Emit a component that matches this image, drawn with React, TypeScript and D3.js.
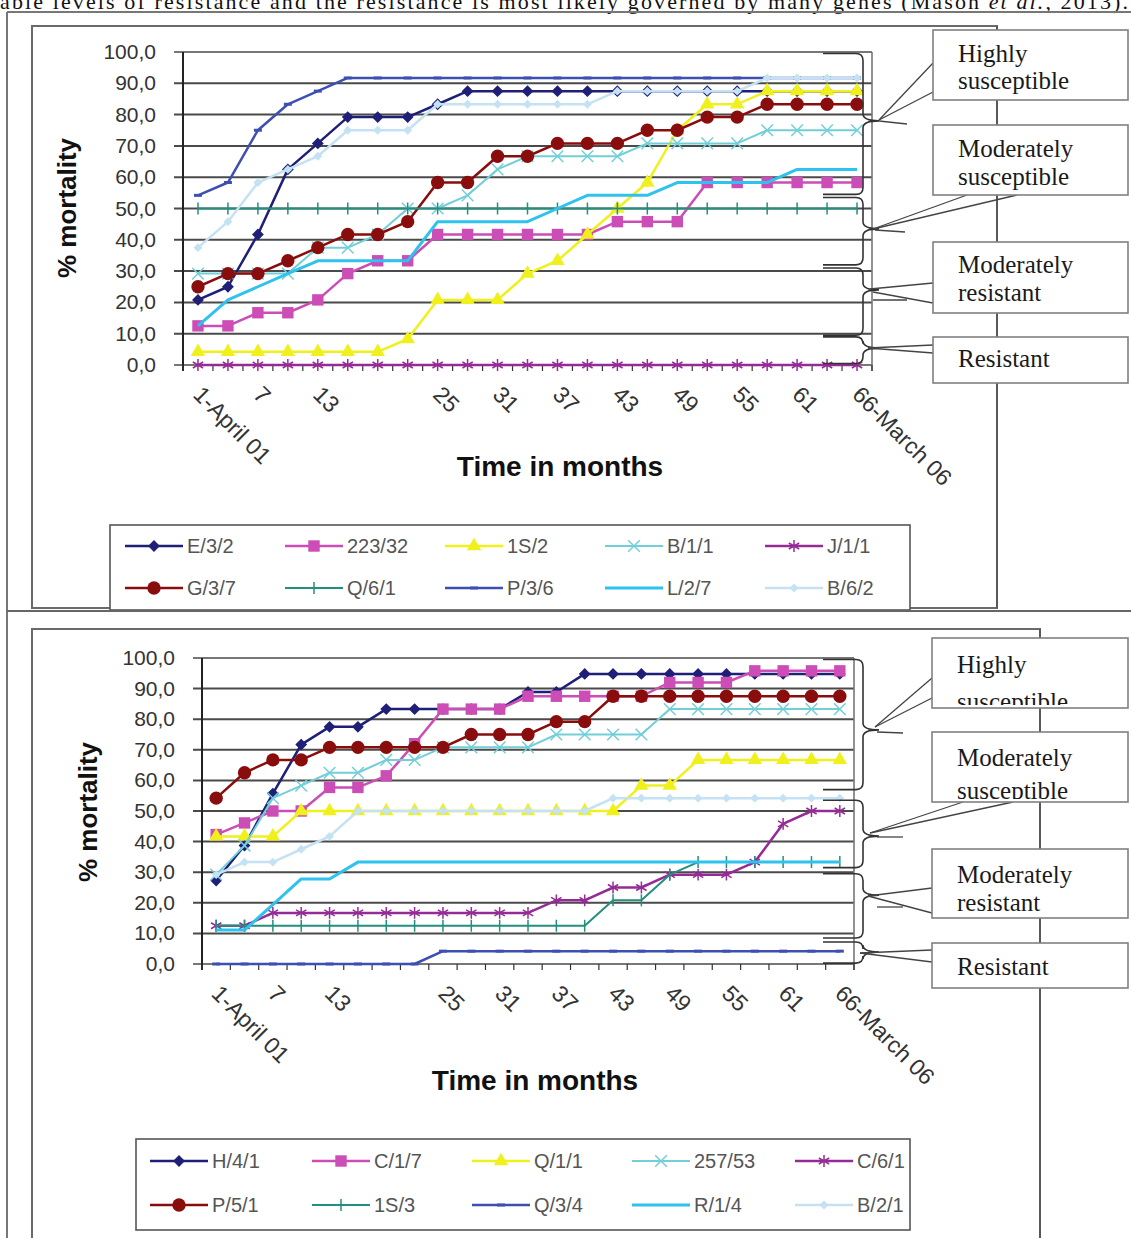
import React from "react";
import * as d3 from "d3";

// categories every 3 months; Excel printed every other label and skipped 19
const monthLabels = ["1-April 01", "", "7", "", "13", "", "", "", "25", "", "31", "", "37", "", "43", "", "49", "", "55", "", "61", "", "66-March 06"];
const yTicks = [0, 10, 20, 30, 40, 50, 60, 70, 80, 90, 100];

// top panel
const topNames = ["E/3/2", "223/32", "1S/2", "B/1/1", "J/1/1", "G/3/7", "Q/6/1", "P/3/6", "L/2/7", "B/6/2"];
const e32 = [20.8, 25, 41.7, 62.5, 70.8, 79.2, 79.2, 79.2, 83.3, 87.5, 87.5, 87.5, 87.5, 87.5, 87.5, 87.5, 87.5, 87.5, 87.5, 87.5, 87.5, 87.5, 87.5];
const s22332 = [12.5, 12.5, 16.7, 16.7, 20.8, 29.2, 33.3, 33.3, 41.7, 41.7, 41.7, 41.7, 41.7, 41.7, 45.8, 45.8, 45.8, 58.3, 58.3, 58.3, 58.3, 58.3, 58.3];
const s1s2 = [4.2, 4.2, 4.2, 4.2, 4.2, 4.2, 4.2, 8.3, 20.8, 20.8, 20.8, 29.2, 33.3, 41.7, 50, 58.3, 75, 83.3, 83.3, 87.5, 87.5, 87.5, 87.5];
const b11 = [29.2, 29.2, 29.2, 29.2, 37.5, 37.5, 41.7, 50, 50, 54.2, 62.5, 66.7, 66.7, 66.7, 66.7, 70.8, 70.8, 70.8, 70.8, 75, 75, 75, 75];
const j11 = [0, 0, 0, 0, 0, 0, 0, 0, 0, 0, 0, 0, 0, 0, 0, 0, 0, 0, 0, 0, 0, 0, 0];
const g37 = [25, 29.2, 29.2, 33.3, 37.5, 41.7, 41.7, 45.8, 58.3, 58.3, 66.7, 66.7, 70.8, 70.8, 70.8, 75, 75, 79.2, 79.2, 83.3, 83.3, 83.3, 83.3];
const q61 = [50, 50, 50, 50, 50, 50, 50, 50, 50, 50, 50, 50, 50, 50, 50, 50, 50, 50, 50, 50, 50, 50, 50];
const p36 = [54.2, 58.3, 75, 83.3, 87.5, 91.7, 91.7, 91.7, 91.7, 91.7, 91.7, 91.7, 91.7, 91.7, 91.7, 91.7, 91.7, 91.7, 91.7, 91.7, 91.7, 91.7, 91.7];
const l27 = [12.5, 20.8, 25, 29.2, 33.3, 33.3, 33.3, 33.3, 45.8, 45.8, 45.8, 45.8, 50, 54.2, 54.2, 54.2, 58.3, 58.3, 58.3, 58.3, 62.5, 62.5, 62.5];
const b62 = [37.5, 45.8, 58.3, 62.5, 66.7, 75, 75, 75, 83.3, 83.3, 83.3, 83.3, 83.3, 83.3, 87.5, 87.5, 87.5, 87.5, 87.5, 91.7, 91.7, 91.7, 91.7];
const topValues = [e32, s22332, s1s2, b11, j11, g37, q61, p36, l27, b62];

// bottom panel
const bottomNames = ["H/4/1", "C/1/7", "Q/1/1", "257/53", "C/6/1", "P/5/1", "1S/3", "Q/3/4", "R/1/4", "B/2/1"];
const h41 = [27.3, 38.7, 55.7, 71.7, 77.5, 77.5, 83.3, 83.3, 83.3, 83.3, 83.3, 88.9, 88.9, 94.8, 94.8, 94.8, 94.8, 94.8, 94.8, 94.8, 94.8, 94.8, 94.8];
const c17 = [42.3, 46.1, 50, 50, 57.7, 57.7, 61.5, 72, 83.3, 83.3, 83.3, 87.5, 87.5, 87.5, 87.5, 87.5, 92, 92, 92, 95.8, 95.8, 95.8, 95.8];
const q11 = [41.7, 41.7, 41.7, 50, 50, 50, 50, 50, 50, 50, 50, 50, 50, 50, 50, 58.3, 58.3, 66.7, 66.7, 66.7, 66.7, 66.7, 66.7];
const s25753 = [29.2, 38.7, 54.2, 58.3, 62.5, 62.5, 66.7, 66.7, 70.8, 70.8, 70.8, 70.8, 75, 75, 75, 75, 83.3, 83.3, 83.3, 83.3, 83.3, 83.3, 83.3];
const c61 = [12.5, 12.5, 16.7, 16.7, 16.7, 16.7, 16.7, 16.7, 16.7, 16.7, 16.7, 16.7, 20.8, 20.8, 25, 25, 29.2, 29.2, 29.2, 33.3, 45.8, 50, 50];
const p51 = [54.2, 62.5, 66.7, 66.7, 70.8, 70.8, 70.8, 70.8, 70.8, 75, 75, 75, 79.2, 79.2, 87.5, 87.5, 87.5, 87.5, 87.5, 87.5, 87.5, 87.5, 87.5];
const s1s3 = [12.5, 12.5, 12.5, 12.5, 12.5, 12.5, 12.5, 12.5, 12.5, 12.5, 12.5, 12.5, 12.5, 12.5, 20.8, 20.8, 29.2, 33.3, 33.3, 33.3, 33.3, 33.3, 33.3];
const q34 = [0, 0, 0, 0, 0, 0, 0, 0, 4.2, 4.2, 4.2, 4.2, 4.2, 4.2, 4.2, 4.2, 4.2, 4.2, 4.2, 4.2, 4.2, 4.2, 4.2];
const r14 = [11.1, 11.1, 19.4, 27.8, 27.8, 33.3, 33.3, 33.3, 33.3, 33.3, 33.3, 33.3, 33.3, 33.3, 33.3, 33.3, 33.3, 33.3, 33.3, 33.3, 33.3, 33.3, 33.3];
const b21 = [29.2, 33.3, 33.3, 37.5, 41.7, 50, 50, 50, 50, 50, 50, 50, 50, 50, 54.2, 54.2, 54.2, 54.2, 54.2, 54.2, 54.2, 54.2, 54.2];
const bottomValues = [h41, c17, q11, s25753, c61, p51, s1s3, q34, r14, b21];

// resistance classes and the % mortality spans their braces cover: [from, to, tip]
const classLabels = [["Highly", "susceptible"], ["Moderately", "susceptible"], ["Moderately", "resistant"], ["Resistant"]];
const topBraces = [[99.5, 54.5, 78], [53.5, 32, 43.5], [31, 9.5, 24], [9, 0.5, 5.4]];
const bottomBraces = [[99.5, 57, 76.5], [53.5, 31.5, 41.8], [29.5, 8.5, 22.5], [7.2, 0.3, 3.9]];

// one style per series slot, shared by both panels (Excel default order)
const seriesStyle = [
  { color: "#1f1f78", marker: "diamond", width: 2.5 },
  { color: "#cc4db5", marker: "square", width: 2.5 },
  { color: "#f0f01c", marker: "triangle", width: 2.5 },
  { color: "#72cfd8", marker: "x", width: 2 },
  { color: "#952c95", marker: "asterisk", width: 2.5 },
  { color: "#8a0d0d", marker: "circle", width: 2.5 },
  { color: "#238f7e", marker: "plus", width: 2 },
  { color: "#3e4fb2", marker: "dash", width: 2.5 },
  { color: "#2ec2ee", marker: "none", width: 3 },
  { color: "#c4e2f3", marker: "smalldiamond", width: 2.5 },
];

const topLayout = {
  frame: [32, 26, 997, 608],
  left: 183, right: 872, top: 52, bottom: 365,
  tickRight: 156,
  yTitle: [76, 208], xTitle: [560, 476],
  legendBox: [110, 525, 910, 610], legendRows: [546, 588], legendCols: [125, 285, 445, 605, 765],
  connectorX: 997,
  boxX: [933, 1128],
  boxes: [[30, 100], [125, 195], [242, 313], [337, 383]],
  textBase: [[62, 89], [157, 185], [273, 301], [367]],
  textX: 958,
  callouts: [
    [[933, 63, 879, 120], [933, 92, 879, 120], [879, 121, 907, 124]],
    [[967, 195, 873, 229], [1017, 195, 873, 229], [875, 230, 905, 232]],
    [[933, 283, 870, 289], [933, 303, 873, 292], [873, 300, 907, 300]],
    [[933, 345, 868, 348], [933, 353, 868, 348]],
  ],
  braces: topBraces,
};

const bottomLayout = {
  frame: [32, 629, 1040, 1240],
  left: 202, right: 854, top: 658, bottom: 964,
  tickRight: 175,
  yTitle: [97, 812], xTitle: [535, 1090],
  legendBox: [136, 1139, 910, 1230], legendRows: [1161, 1205], legendCols: [150, 312, 472, 632, 795],
  connectorX: 1040,
  boxX: [932, 1128],
  boxes: [[638, 708], [732, 802], [849, 918], [943, 988]],
  textBase: [[673, 710], [766, 799], [883, 911], [975]],
  textX: 957,
  callouts: [
    [[932, 678, 875, 727], [932, 698, 875, 727], [877, 732, 903, 733]],
    [[963, 802, 870, 833], [1013, 802, 870, 833], [877, 837, 903, 837]],
    [[932, 888, 868, 896], [932, 913, 868, 896], [877, 907, 903, 907]],
    [[932, 950, 860, 953], [932, 962, 860, 953]],
  ],
  braces: bottomBraces,
};

const sans = "Liberation Sans, Arial, sans-serif";
const serif = "Liberation Serif, Times New Roman, serif";

function Marker({ kind, x, y, color }: { kind: string; x: number; y: number; color: string }) {
  const t = `translate(${x},${y})`;
  if (kind === "diamond") return <path transform={t + " rotate(45)"} d={d3.symbol(d3.symbolSquare, 70)()!} fill={color} />;
  if (kind === "smalldiamond") return <path transform={t + " rotate(45)"} d={d3.symbol(d3.symbolSquare, 40)()!} fill={color} />;
  if (kind === "square") return <path transform={t} d={d3.symbol(d3.symbolSquare, 130)()!} fill={color} />;
  if (kind === "triangle") return <path transform={t} d={d3.symbol(d3.symbolTriangle, 90)()!} fill={color} />;
  if (kind === "circle") return <path transform={t} d={d3.symbol(d3.symbolCircle, 140)()!} fill={color} />;
  if (kind === "x") return <path transform={t} d={d3.symbol(d3.symbolX, 90)()!} fill="none" stroke={color} strokeWidth={1.5} />;
  if (kind === "asterisk") return <path transform={t} d={d3.symbol(d3.symbolAsterisk, 100)()!} fill="none" stroke={color} strokeWidth={1.5} />;
  if (kind === "plus") return <path transform={t} d="M0,-6V6" fill="none" stroke={color} strokeWidth={1.5} />;
  if (kind === "dash") return <path transform={t} d="M-4,0H4" stroke={color} strokeWidth={3} />;
  return null;
}

function bracePath(xa: number, xs: number, xt: number, y0: number, y1: number, ym: number) {
  const r = 7;
  return `M${xa},${y0}L${xs - r},${y0}Q${xs},${y0} ${xs},${y0 + r}L${xs},${ym - r}Q${xs},${ym} ${xt},${ym}` +
    `Q${xs},${ym} ${xs},${ym + r}L${xs},${y1 - r}Q${xs},${y1} ${xs - r},${y1}L${xa},${y1}`;
}

function Panel({ lay, names, values, id }: { lay: any; names: string[]; values: number[][]; id: string }) {
  const x = d3.scaleBand<number>().domain(d3.range(monthLabels.length)).range([lay.left, lay.right]);
  const cx = (i: number) => (x(i) ?? 0) + x.bandwidth() / 2;
  const y = d3.scaleLinear().domain([0, 100]).range([lay.bottom, lay.top]);
  const line = d3.line<number>().x((_, i) => cx(i)).y(d => y(d));
  const fmt = (v: number) => v.toFixed(1).replace(".", ",");
  const [fx0, fy0, fx1, fy1] = lay.frame;
  const [lx0, ly0, lx1, ly1] = lay.legendBox;

  return (
    <g>
      <rect x={fx0} y={fy0} width={fx1 - fx0} height={fy1 - fy0} fill="#fff" stroke="#6a6a6a" strokeWidth={2} />

      {/* gridlines and plot frame */}
      {yTicks.map(t => (
        <line key={t} x1={lay.left - 9} x2={lay.right} y1={y(t)} y2={y(t)} stroke="#4a4a4a" strokeWidth={t === 0 || t === 100 ? 1.6 : 2} />
      ))}
      <line x1={lay.right} x2={lay.right} y1={y(100)} y2={y(0) + 6} stroke="#777" strokeWidth={1.6} />
      <line x1={lay.left} x2={lay.left} y1={y(100)} y2={y(0) + 6} stroke="#222" strokeWidth={2} />
      {d3.range(monthLabels.length + 1).map(i => {
        const bx = lay.left + i * x.bandwidth();
        return <line key={i} x1={bx} x2={bx} y1={y(0)} y2={y(0) + 6} stroke="#333" strokeWidth={1.2} />;
      })}

      {yTicks.map(t => (
        <text key={t} x={lay.tickRight} y={y(t) + 7} textAnchor="end" fontFamily={sans} fontSize={21} fill="#333">{fmt(t)}</text>
      ))}
      {monthLabels.map((m, i) => m ? (
        <text key={i} transform={`translate(${cx(i) - 6},${y(0) + 31}) rotate(45)`} fontFamily={sans} fontSize={23} fill="#333">{m}</text>
      ) : null)}

      <text transform={`translate(${lay.yTitle[0]},${lay.yTitle[1]}) rotate(-90)`} textAnchor="middle" fontFamily={sans} fontWeight="bold" fontSize={26} fill="#111">% mortality</text>
      <text x={lay.xTitle[0]} y={lay.xTitle[1]} textAnchor="middle" fontFamily={sans} fontWeight="bold" fontSize={28} fill="#111">Time in months</text>

      {/* series */}
      {values.map((vals, s) => (
        <g key={s}>
          <path d={line(vals)!} fill="none" stroke={seriesStyle[s].color} strokeWidth={seriesStyle[s].width} strokeLinejoin="round" />
          {vals.map((v, i) => <Marker key={i} kind={seriesStyle[s].marker} x={cx(i)} y={y(v)} color={seriesStyle[s].color} />)}
        </g>
      ))}

      {/* class braces and callouts */}
      <line x1={lay.connectorX} x2={lay.connectorX} y1={fy0} y2={fy1} stroke="#555" strokeWidth={1.6} />
      {lay.braces.map((b: number[], k: number) => (
        <path key={k} d={bracePath(823, 863, 879, y(b[0]), y(b[1]), y(b[2]))} fill="none" stroke="#333" strokeWidth={1.6} />
      ))}
      {lay.callouts.map((segs: number[][], k: number) => segs.map((sg, j) => (
        <line key={k + "-" + j} x1={sg[0]} y1={sg[1]} x2={sg[2]} y2={sg[3]} stroke="#444" strokeWidth={1.3} />
      )))}
      <defs>
        {lay.boxes.map((b: number[], k: number) => (
          <clipPath key={k} id={`${id}-box${k}`}>
            <rect x={lay.boxX[0]} y={b[0]} width={lay.boxX[1] - lay.boxX[0]} height={b[1] - b[0] - 3} />
          </clipPath>
        ))}
      </defs>
      {lay.boxes.map((b: number[], k: number) => (
        <g key={k}>
          <rect x={lay.boxX[0]} y={b[0]} width={lay.boxX[1] - lay.boxX[0]} height={b[1] - b[0]} fill="#fff" stroke="#808080" strokeWidth={1.6} />
          <g clipPath={`url(#${id}-box${k})`}>
            {classLabels[k].map((t, j) => (
              <text key={j} x={lay.textX} y={lay.textBase[k][j]} fontFamily={serif} fontSize={25} fill="#1a1a1a">{t}</text>
            ))}
          </g>
        </g>
      ))}

      {/* legend */}
      <rect x={lx0} y={ly0} width={lx1 - lx0} height={ly1 - ly0} fill="#fff" stroke="#555" strokeWidth={1.6} />
      {names.map((n, s) => {
        const lx = lay.legendCols[s % 5];
        const ly = lay.legendRows[Math.floor(s / 5)];
        const st = seriesStyle[s];
        return (
          <g key={n}>
            <line x1={lx} x2={lx + 58} y1={ly} y2={ly} stroke={st.color} strokeWidth={st.width} />
            <Marker kind={st.marker} x={lx + 29} y={ly} color={st.color} />
            <text x={lx + 62} y={ly + 7} fontFamily={sans} fontSize={20} fill="#555">{n}</text>
          </g>
        );
      })}
    </g>
  );
}

export default function App() {
  return (
    <svg width={1131} height={1238} style={{ position: "absolute", left: 0, top: 0, display: "block", background: "#fff" }}>
      <rect width={1131} height={1238} fill="#fff" />
      <text x={0} y={9} fontFamily={serif} fontSize={22} fill="#111" textLength={1128} lengthAdjust="spacing">
        able levels of resistance and the resistance is most likely governed by many genes (Mason <tspan fontStyle="italic">et al.</tspan>, 2013).
      </text>
      <line x1={7} x2={1131} y1={12} y2={12} stroke="#777" strokeWidth={2} />
      <line x1={7} x2={7} y1={12} y2={1238} stroke="#777" strokeWidth={2} />
      <Panel lay={topLayout} names={topNames} values={topValues} id="top" />
      <line x1={7} x2={1131} y1={611} y2={611} stroke="#666" strokeWidth={2} />
      <Panel lay={bottomLayout} names={bottomNames} values={bottomValues} id="bot" />
    </svg>
  );
}
